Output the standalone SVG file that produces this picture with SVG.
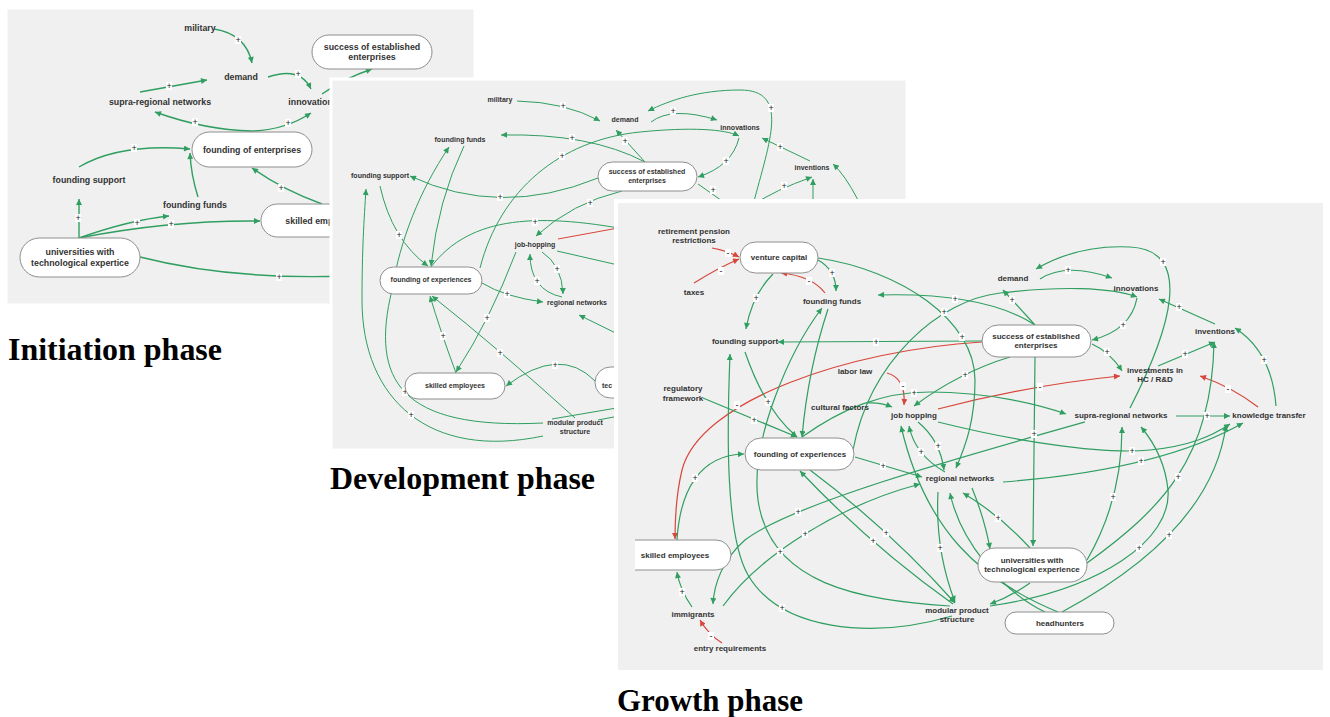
<svg xmlns="http://www.w3.org/2000/svg" xmlns:xlink="http://www.w3.org/1999/xlink" width="1330" height="717" viewBox="0 0 1330 717">
<defs>
<style>
.bg{fill:#f0f0f0;stroke:#fff;stroke-width:3}
.e{fill:none;stroke:#2f9e60;stroke-width:1.2;marker-end:url(#ag)}
.en{fill:none;stroke:#2f9e60;stroke-width:1.2}
.r{fill:none;stroke:#d8453a;stroke-width:1.2;marker-end:url(#ar)}
.rn{fill:none;stroke:#d8453a;stroke-width:1.2}
.p1 .e,.p1 .en{stroke-width:1.4}
.p2 .e,.p2 .en,.p2 .rn{stroke-width:1}
.pill{fill:#fff;stroke:#8e8e8e;stroke-width:1}
.t{font-family:"Liberation Sans",Arial,sans-serif;font-weight:bold;fill:#333;text-anchor:middle}
.t1{font-size:8.8px}
.t2{font-size:7px}
.t3{font-size:8px}
.ttl{font-family:"Liberation Serif","DejaVu Serif",serif;font-weight:bold;font-size:31px;fill:#000}
</style>
<marker id="ag" viewBox="0 0 10 10" refX="10" refY="5" markerWidth="7" markerHeight="6" markerUnits="userSpaceOnUse" orient="auto"><path d="M0,0 L10,5 L0,10 z" fill="#2f9e60"/></marker>
<marker id="ar" viewBox="0 0 10 10" refX="10" refY="5" markerWidth="7" markerHeight="6" markerUnits="userSpaceOnUse" orient="auto"><path d="M0,0 L10,5 L0,10 z" fill="#d8453a"/></marker>
<g id="plus"><rect x="-3" y="-4" width="6" height="8" fill="#fff"/><text y="3" font-family="Liberation Sans, Arial, sans-serif" font-size="9" fill="#222" text-anchor="middle">+</text></g>
<g id="minus"><rect x="-3" y="-4" width="6" height="8" fill="#fff"/><text y="2.8" font-family="Liberation Sans, Arial, sans-serif" font-size="9" fill="#222" text-anchor="middle">-</text></g>
</defs>
<rect width="1330" height="717" fill="#fff"/>

<!-- ================= PANEL 1 : Initiation ================= -->
<g id="panel1" class="p1">
<rect class="bg" x="6" y="8" width="469" height="297"/>
<g id="p1-connectors">
<path class="e" d="M214,29 Q246,34 252,63"/>
<path class="e" d="M268,77 Q300,66 311,89"/>
<path class="e" d="M140,92 L207,80"/>
<path class="e" d="M252,131 Q205,130 155,112"/>
<path class="e" d="M252,131 Q285,130 311,113"/>
<path class="e" d="M79,167 Q120,143 190,149"/>
<path class="e" d="M198,197 Q191,175 190,153"/>
<path class="e" d="M322,204 Q283,190 252,168"/>
<path class="e" d="M79,238 L79,199"/>
<path class="e" d="M79,238 Q130,220 169,216"/>
<path class="e" d="M79,238 Q170,220 260,221"/>
<path class="en" d="M140,257 Q230,280 345,276"/>
<path class="e" d="M322,94 Q345,78 372,69"/>
<use href="#plus" x="238" y="40"/>
<use href="#plus" x="298" y="74"/>
<use href="#plus" x="169" y="86"/>
<use href="#plus" x="195" y="122"/>
<use href="#plus" x="288" y="123"/>
<use href="#plus" x="134" y="148"/>
<use href="#plus" x="281" y="188"/>
<use href="#plus" x="78" y="218"/>
<use href="#plus" x="137" y="223"/>
<use href="#plus" x="171" y="224"/>
<use href="#plus" x="279" y="277"/>
</g>
<g id="p1-military"><text class="t t1" x="200" y="31">military</text></g>
<g id="p1-demand"><text class="t t1" x="241" y="80">demand</text></g>
<g id="p1-supra"><text class="t t1" x="160" y="105">supra-regional networks</text></g>
<g id="p1-innovations"><text class="t t1" x="313" y="105">innovations</text></g>
<g id="p1-success"><rect class="pill" x="312" y="35" width="120" height="34" rx="17"/><text class="t t1" x="372" y="50">success of established</text><text class="t t1" x="372" y="60">enterprises</text></g>
<g id="p1-founding-enterprises"><rect class="pill" x="192" y="132" width="120" height="35" rx="17.5"/><text class="t t1" x="252" y="153">founding of enterprises</text></g>
<g id="p1-founding-support"><text class="t t1" x="89" y="183">founding support</text></g>
<g id="p1-founding-funds"><text class="t t1" x="195" y="208">founding funds</text></g>
<g id="p1-skilled"><rect class="pill" x="261" y="204" width="126" height="33" rx="16.5"/><text class="t t1" x="323" y="224">skilled employees</text></g>
<g id="p1-universities"><rect class="pill" x="20" y="238" width="120" height="39" rx="19.5"/><text class="t t1" x="80" y="255">universities with</text><text class="t t1" x="80" y="266">technological expertice</text></g>
</g>

<!-- ================= PANEL 2 : Development ================= -->
<g id="panel2" class="p2">
<rect class="bg" x="331" y="79" width="576" height="371"/>
<g id="p2-connectors">
<path class="e" d="M517,101 Q565,102 600,121"/>
<path class="e" d="M645,162 Q590,133 501,135"/>
<path class="e" d="M645,162 L616,130"/>
<path class="e" d="M480,268 C500,190 560,140 640,132 C690,127 725,129 739,136"/>
<path class="e" d="M598,178 Q500,218 410,176"/>
<path class="e" d="M622,191 Q572,203 536,236"/>
<path class="en" d="M431,267 C470,215 540,212 640,232"/>
<path class="rn" d="M558,239 L640,224"/>
<path class="en" d="M557,251 L640,270"/>
<path class="e" d="M380,186 Q392,240 428,266"/>
<path class="e" d="M543,423 C400,430 370,380 392,290 C400,240 420,190 449,147"/>
<path class="e" d="M464,146 Q438,200 431,266"/>
<path class="e" d="M543,436 C430,460 362,400 362,300 C362,250 364,220 366,189"/>
<path class="e" d="M516,252 Q490,320 456,372"/>
<path class="e" d="M562,297 Q530,290 530,254"/>
<path class="e" d="M542,252 Q562,265 563,294"/>
<path class="e" d="M482,283 Q505,297 543,302"/>
<path class="e" d="M640,345 L579,315"/>
<path class="e" d="M456,373 Q440,330 430,296"/>
<path class="e" d="M575,418 Q500,350 432,296"/>
<path class="e" d="M595,381 Q560,345 506,386"/>
<path class="en" d="M552,419 L640,404"/>
<path class="en" d="M598,420 L640,412"/>
<path class="e" d="M810,161 L762,138"/>
<path class="e" d="M739,138 Q732,166 698,177"/>
<path class="e" d="M651,122 Q672,106 717,120"/>
<path class="e" d="M753,205 C770,140 790,90 740,90 C700,90 670,100 648,111"/>
<path class="en" d="M698,184 L735,210"/>
<path class="e" d="M753,205 Q775,190 812,177"/>
<path class="e" d="M813,205 L813,179"/>
<path class="e" d="M858,200 Q845,175 833,164"/>
<use href="#plus" x="563" y="106"/>
<use href="#plus" x="572" y="138"/>
<use href="#plus" x="625" y="141"/>
<use href="#plus" x="562" y="156"/>
<use href="#plus" x="500" y="197"/>
<use href="#plus" x="590" y="203"/>
<use href="#plus" x="535" y="222"/>
<use href="#plus" x="399" y="235"/>
<use href="#plus" x="405" y="392"/>
<use href="#plus" x="411" y="415"/>
<use href="#plus" x="487" y="318"/>
<use href="#plus" x="537" y="281"/>
<use href="#plus" x="557" y="269"/>
<use href="#plus" x="507" y="294"/>
<use href="#plus" x="443" y="336"/>
<use href="#plus" x="500" y="353"/>
<use href="#plus" x="555" y="365"/>
<use href="#plus" x="780" y="147"/>
<use href="#plus" x="726" y="161"/>
<use href="#plus" x="673" y="111"/>
<use href="#plus" x="771" y="108"/>
<use href="#plus" x="713" y="190"/>
<use href="#plus" x="784" y="186"/>
</g>
<g id="p2-military"><text class="t t2" x="500" y="102">military</text></g>
<g id="p2-demand"><text class="t t2" x="625" y="122">demand</text></g>
<g id="p2-innovations"><text class="t t2" x="740" y="130">innovations</text></g>
<g id="p2-founding-funds"><text class="t t2" x="460" y="142">founding funds</text></g>
<g id="p2-founding-support"><text class="t t2" x="380" y="178">founding support</text></g>
<g id="p2-success"><rect class="pill" x="598" y="162" width="99" height="29" rx="14.5"/><text class="t t2" x="647" y="174">success of established</text><text class="t t2" x="647" y="183">enterprises</text></g>
<g id="p2-inventions"><text class="t t2" x="812" y="170">inventions</text></g>
<g id="p2-job-hopping"><text class="t t2" x="535" y="247">job-hopping</text></g>
<g id="p2-founding-experiences"><rect class="pill" x="380" y="267" width="102" height="27" rx="13.5"/><text class="t t2" x="431" y="282">founding of experiences</text></g>
<g id="p2-regional"><text class="t t2" x="577" y="305">regional networks</text></g>
<g id="p2-skilled"><rect class="pill" x="405" y="373" width="100" height="26" rx="13"/><text class="t t2" x="455" y="388">skilled employees</text></g>
<g id="p2-universities"><rect class="pill" x="595" y="367" width="110" height="31" rx="15.5"/><text class="t t2" x="602" y="388" style="text-anchor:start">tec</text></g>
<g id="p2-modular"><text class="t t2" x="575" y="425">modular product</text><text class="t t2" x="575" y="434">structure</text></g>
</g>

<!-- ================= PANEL 3 : Growth ================= -->
<g id="panel3" class="p3">
<rect class="bg" x="616" y="201" width="709" height="471" style="stroke-width:4"/>
<g id="p3-connectors">
<path class="r" d="M712,248 Q728,251 739,257"/>
<path class="r" d="M694,283 Q718,268 739,259"/>
<path class="r" d="M825,293 Q812,276 781,273"/>
<path class="r" d="M887,373 Q906,378 904,405"/>
<path class="r" d="M982,342 C850,350 700,400 682,470 C676,495 675,515 675,539"/>
<path class="r" d="M938,409 Q1030,385 1120,376"/>
<path class="r" d="M1258,407 Q1232,387 1200,376"/>
<path class="r" d="M722,643 Q708,634 700,620"/>
<path class="e" d="M818,260 Q836,270 836,291"/>
<path class="e" d="M773,274 Q752,295 746,329"/>
<path class="e" d="M818,258 C900,270 975,320 975,380 C975,420 966,445 956,468"/>
<path class="e" d="M1035,325 Q985,292 878,295"/>
<path class="e" d="M982,341 L778,342"/>
<path class="e" d="M853,450 C870,360 940,300 1000,293 C1060,286 1110,287 1137,297"/>
<path class="e" d="M1137,298 Q1131,330 1092,340"/>
<path class="e" d="M1040,279 Q1066,262 1112,278"/>
<path class="e" d="M1130,408 C1170,330 1195,250 1130,247 C1090,245 1060,255 1036,269"/>
<path class="e" d="M1035,325 L1003,290"/>
<path class="e" d="M1092,344 Q1110,352 1122,371"/>
<path class="e" d="M1158,366 L1215,342"/>
<path class="e" d="M1215,324 L1159,299"/>
<path class="e" d="M1276,406 Q1272,352 1235,328"/>
<path class="e" d="M1176,416 L1230,416"/>
<path class="e" d="M1087,563 C1160,510 1212,460 1214,342"/>
<path class="e" d="M938,422 C1010,440 1100,455 1150,450 C1190,446 1212,436 1230,424"/>
<path class="e" d="M1003,482 Q1160,470 1243,423"/>
<path class="e" d="M1062,612 C1140,570 1215,510 1226,425"/>
<path class="e" d="M990,606 C1100,590 1172,540 1168,490 C1165,460 1152,440 1141,427"/>
<path class="e" d="M1087,560 Q1122,500 1122,427"/>
<path class="e" d="M1035,357 L1033,546"/>
<path class="e" d="M1010,357 Q960,372 914,406"/>
<path class="e" d="M802,437 C840,410 880,392 930,392 C990,392 1040,405 1066,414"/>
<path class="e" d="M867,403 Q880,402 892,407"/>
<path class="e" d="M745,352 Q765,410 797,437"/>
<path class="e" d="M703,398 L797,437"/>
<path class="e" d="M952,616 C870,640 780,630 748,575 C725,535 727,430 730,354"/>
<path class="e" d="M950,606 C860,600 770,585 758,500 C750,440 790,350 822,308"/>
<path class="e" d="M828,309 Q808,370 802,437"/>
<path class="e" d="M953,604 Q870,545 800,471"/>
<path class="e" d="M810,470 Q890,530 955,603"/>
<path class="e" d="M855,457 Q885,466 922,477"/>
<path class="e" d="M938,492 Q935,550 955,602"/>
<path class="e" d="M945,472 Q915,455 909,426"/>
<path class="e" d="M918,422 Q940,440 944,470"/>
<path class="e" d="M1058,612 C980,580 925,530 901,426"/>
<path class="e" d="M1045,612 C1000,590 960,540 950,493"/>
<path class="e" d="M1030,548 Q1000,515 963,493"/>
<path class="e" d="M972,488 Q985,520 990,549"/>
<path class="e" d="M1030,583 Q1010,597 990,604"/>
<path class="e" d="M1085,422 C950,460 790,505 745,540 C722,560 714,585 713,604"/>
<path class="e" d="M723,606 C760,555 840,505 920,484"/>
<path class="e" d="M692,607 Q680,590 677,572"/>
<path class="e" d="M677,540 C680,490 700,455 744,454"/>
<use href="#minus" x="728" y="253"/>
<use href="#minus" x="721" y="271"/>
<use href="#minus" x="809" y="281"/>
<use href="#minus" x="903" y="386"/>
<use href="#minus" x="737" y="405"/>
<use href="#minus" x="1040" y="387"/>
<use href="#minus" x="1228" y="389"/>
<use href="#minus" x="711" y="636"/>
<use href="#plus" x="832" y="273"/>
<use href="#plus" x="756" y="298"/>
<use href="#plus" x="962" y="337"/>
<use href="#plus" x="955" y="299"/>
<use href="#plus" x="876" y="342"/>
<use href="#plus" x="944" y="312"/>
<use href="#plus" x="1123" y="325"/>
<use href="#plus" x="1068" y="270"/>
<use href="#plus" x="1163" y="262"/>
<use href="#plus" x="1012" y="300"/>
<use href="#plus" x="1107" y="352"/>
<use href="#plus" x="1185" y="354"/>
<use href="#plus" x="1179" y="307"/>
<use href="#plus" x="1264" y="360"/>
<use href="#plus" x="1207" y="416"/>
<use href="#plus" x="1178" y="477"/>
<use href="#plus" x="1132" y="451"/>
<use href="#plus" x="1141" y="461"/>
<use href="#plus" x="1169" y="535"/>
<use href="#plus" x="1139" y="548"/>
<use href="#plus" x="1113" y="497"/>
<use href="#plus" x="1034" y="434"/>
<use href="#plus" x="965" y="375"/>
<use href="#plus" x="914" y="393"/>
<use href="#plus" x="768" y="402"/>
<use href="#plus" x="754" y="420"/>
<use href="#plus" x="782" y="608"/>
<use href="#plus" x="780" y="552"/>
<use href="#plus" x="873" y="541"/>
<use href="#plus" x="886" y="533"/>
<use href="#plus" x="883" y="466"/>
<use href="#plus" x="940" y="548"/>
<use href="#plus" x="921" y="452"/>
<use href="#plus" x="938" y="446"/>
<use href="#plus" x="998" y="518"/>
<use href="#plus" x="798" y="512"/>
<use href="#plus" x="805" y="534"/>
<use href="#plus" x="682" y="592"/>
<use href="#plus" x="695" y="478"/>
</g>
<g id="p3-retirement"><text class="t t3" x="694" y="234">retirement pension</text><text class="t t3" x="694" y="243">restrictions</text></g>
<g id="p3-venture"><rect class="pill" x="740" y="242" width="78" height="31" rx="15.5"/><text class="t t3" x="779" y="260">venture capital</text></g>
<g id="p3-taxes"><text class="t t3" x="694" y="295">taxes</text></g>
<g id="p3-founding-funds"><text class="t t3" x="832" y="304">founding funds</text></g>
<g id="p3-founding-support"><text class="t t3" x="745" y="344">founding support</text></g>
<g id="p3-labor"><text class="t t3" x="855" y="374">labor law</text></g>
<g id="p3-regulatory"><text class="t t3" x="683" y="391">regulatory</text><text class="t t3" x="683" y="401">framework</text></g>
<g id="p3-cultural"><text class="t t3" x="840" y="410">cultural factors</text></g>
<g id="p3-job-hopping"><text class="t t3" x="914" y="418">job hopping</text></g>
<g id="p3-demand"><text class="t t3" x="1013" y="281">demand</text></g>
<g id="p3-innovations"><text class="t t3" x="1136" y="291">innovations</text></g>
<g id="p3-success"><rect class="pill" x="982" y="325" width="109" height="32" rx="16"/><text class="t t3" x="1036" y="339">success of established</text><text class="t t3" x="1036" y="348">enterprises</text></g>
<g id="p3-inventions"><text class="t t3" x="1215" y="334">inventions</text></g>
<g id="p3-investments"><text class="t t3" x="1155" y="373">investments in</text><text class="t t3" x="1155" y="382">HC / R&amp;D</text></g>
<g id="p3-supra"><text class="t t3" x="1121" y="418">supra-regional networks</text></g>
<g id="p3-knowledge"><text class="t t3" x="1269" y="418">knowledge transfer</text></g>
<g id="p3-founding-experiences"><rect class="pill" x="745" y="438" width="109" height="32" rx="16"/><text class="t t3" x="800" y="457">founding of experiences</text></g>
<g id="p3-regional"><text class="t t3" x="960" y="481">regional networks</text></g>
<g id="p3-skilled"><path class="pill" d="M635,540 H716 A15,15 0 0 1 716,570 H635"/><text class="t t3" x="675" y="558">skilled employees</text></g>
<g id="p3-immigrants"><text class="t t3" x="693" y="617">immigrants</text></g>
<g id="p3-entry"><text class="t t3" x="730" y="651">entry requirements</text></g>
<g id="p3-modular"><text class="t t3" x="957" y="613">modular product</text><text class="t t3" x="957" y="622">structure</text></g>
<g id="p3-universities"><rect class="pill" x="978" y="548" width="109" height="34" rx="17"/><text class="t t3" x="1032" y="563">universities with</text><text class="t t3" x="1032" y="572">technological experience</text></g>
<g id="p3-headhunters"><rect class="pill" x="1005" y="612" width="109" height="22" rx="11"/><text class="t t3" x="1060" y="626">headhunters</text></g>
</g>

<g id="titles">
<text class="ttl" x="8" y="360" textLength="214" lengthAdjust="spacingAndGlyphs">Initiation phase</text>
<text class="ttl" x="330" y="489" textLength="265" lengthAdjust="spacingAndGlyphs">Development phase</text>
<text class="ttl" x="617" y="711" textLength="186" lengthAdjust="spacingAndGlyphs">Growth phase</text>
</g>
</svg>
